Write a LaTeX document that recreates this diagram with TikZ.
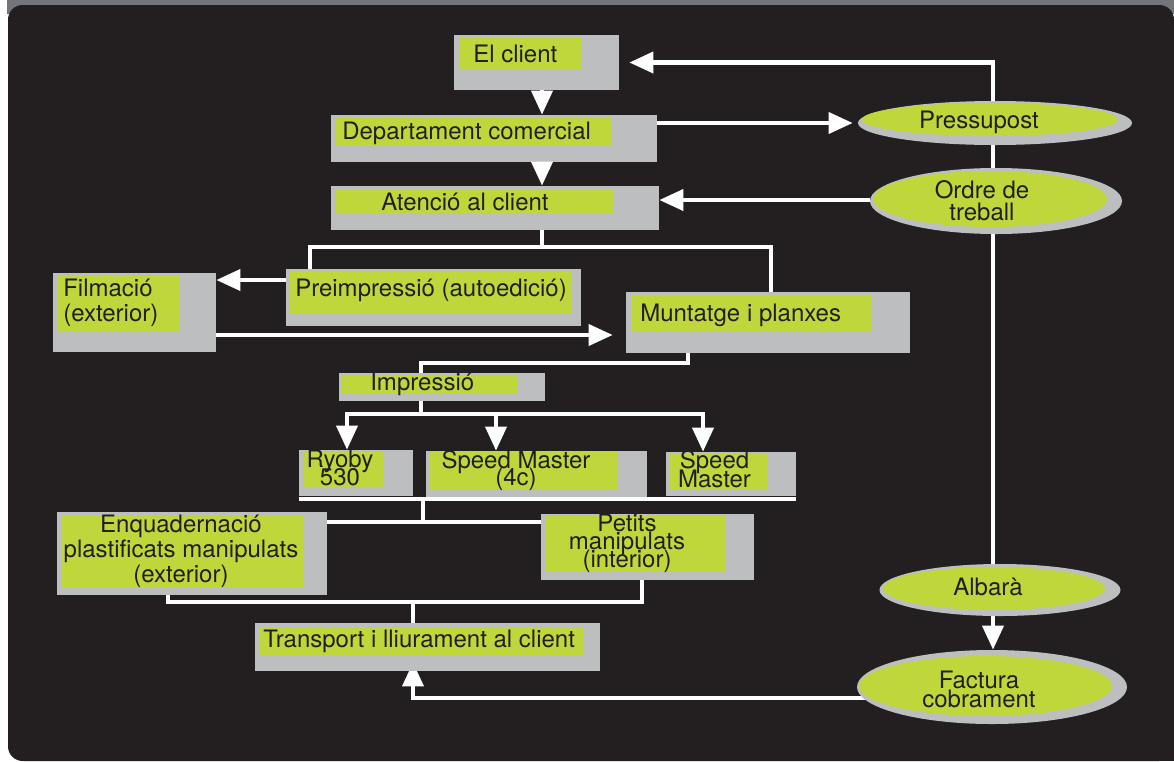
\documentclass[tikz,border=0pt]{standalone}
\usepackage{fontspec}
\setmainfont{TeX Gyre Heros}
\usetikzlibrary{arrows.meta,shapes.geometric,fit,calc}
\definecolor{bgdark}{HTML}{231F20}
\definecolor{boxgray}{HTML}{BCBEC0}
\definecolor{boxgreen}{HTML}{BFD73B}
\definecolor{bandgray}{HTML}{747578}
\definecolor{txtc}{HTML}{231F20}
\pgfdeclarelayer{back}
\pgfdeclarelayer{mid}
\pgfsetlayers{back,mid,main}
\newcommand{\tightfont}[1]{\fontsize{18}{#1}\selectfont\lineskiplimit=-100pt\lineskip=0pt}
\tikzset{
  gbox/.style={fill=boxgray, inner sep=0pt, draw=none},
  grn/.style={fill=boxgreen, inner sep=0pt, draw=none},
  lbl/.style={text=txtc, font=\fontsize{18}{18}\selectfont, inner sep=0pt},
  gell/.style={ellipse, fill=boxgray, inner sep=0pt, draw=none},
  yell/.style={ellipse, fill=boxgreen, inner sep=0pt, draw=none},
  wire/.style={draw=white, line width=3.4pt},
  arr/.style={wire, -{Triangle[length=18pt,width=15.5pt]}}
}
\begin{document}
\begin{tikzpicture}[x=0.75pt,y=-0.75pt]
\useasboundingbox (0,0) rectangle (1174,761);
\begin{pgfonlayer}{back}
\fill[white] (0,0) rectangle (1174,761);
\fill[bandgray] (7,0) rectangle (1174,14);
\fill[bgdark, rounded corners=11pt] (8,5) rectangle (1174,761);
\fill[bgdark] (1150,740) rectangle (1174,761);
\end{pgfonlayer}

% helper coordinates
\coordinate (x542) at (542,0);
\coordinate (x993) at (993,0);
\coordinate (x310) at (310,0);
\coordinate (x771) at (771,0);
\coordinate (x688) at (688,0);
\coordinate (x421) at (421,0);
\coordinate (x347) at (347,0);
\coordinate (x496) at (496,0);
\coordinate (x703) at (703,0);
\coordinate (x423) at (423,0);
\coordinate (x168) at (168,0);
\coordinate (x642) at (642,0);
\coordinate (x413) at (413,0);
\coordinate (x870) at (870,0);
\coordinate (y123) at (0,123);
\coordinate (y200) at (0,200);
\coordinate (y247) at (0,247);
\coordinate (y280) at (0,280);
\coordinate (y335) at (0,335);
\coordinate (y363) at (0,363);
\coordinate (y414) at (0,414);
\coordinate (y499) at (0,499);
\coordinate (y522) at (0,522);
\coordinate (y602) at (0,602);
\coordinate (y698) at (0,698);

% boxes
\node[gbox, fit={(454,35) (619,90)}] (client) {};
\node[grn, fit={(459,38) (581,70)}] (clientg) {};
\node[lbl, anchor=base west] (clientt) at (473,62) {El client};

\node[gbox, fit={(331,115) (657,162)}] (dept) {};
\node[grn, fit={(336,118) (611,146)}] (deptg) {};
\node[lbl, anchor=base west] (deptt) at (342,139) {Departament comercial};

\node[gbox, fit={(331,186) (659,230)}] (aten) {};
\node[grn, fit={(336,189) (613,213)}] (ateng) {};
\node[lbl, anchor=base west] (atent) at (381,210) {Atenció al client};

\node[gbox, fit={(286,269) (581,326)}] (preimp) {};
\node[grn, fit={(289,272) (571,313)}] (preimpg) {};
\node[lbl, anchor=base west] (preimpt) at (295,296) {Preimpressió (autoedició)};

\node[gbox, fit={(53,273) (216,352)}] (film) {};
\node[grn, fit={(57,275) (179,331)}] (filmg) {};
\node[lbl, anchor=base west, align=left, font=\tightfont{18.75}] (filmt) at (63,321) {Filmació\\(exterior)};

\node[gbox, fit={(626,292) (910,353)}] (munt) {};
\node[grn, fit={(632,296) (871,332)}] (muntg) {};
\node[lbl, anchor=base west] (muntt) at (640,321) {Muntatge i planxes};

\node[gbox, fit={(339,373) (545,401)}] (impr) {};
\node[grn, fit={(342,376) (517,393)}] (imprg) {};
\node[lbl, anchor=base west] (imprt) at (370,390) {Impressió};

\node[gbox, fit={(299,450) (413,496)}] (ryoby) {};
\node[grn, fit={(303,452) (384,487)}] (ryobyg) {};
\node[lbl, anchor=base, align=center, font=\tightfont{13.5}] (ryobyt) at (340,485) {Ryoby\\530};

\node[gbox, fit={(426,451) (647,497)}] (smc) {};
\node[grn, fit={(429,452) (618,489)}] (smcg) {};
\node[lbl, anchor=base, align=center, font=\tightfont{12.75}] (smct) at (516,485) {Speed Master\\(4c)};

\node[gbox, fit={(666,452) (796,496)}] (sm) {};
\node[grn, fit={(670,454) (768,489)}] (smg) {};
\node[lbl, anchor=base, align=center, font=\tightfont{14.25}] (smt) at (714.5,487) {Speed\\Master};

\node[gbox, fit={(57,512) (327,595)}] (enq) {};
\node[grn, fit={(62,515) (304,587)}] (enqg) {};
\node[lbl, anchor=base, align=center, font=\tightfont{18.75}] (enqt) at (181,582) {Enquadernació\\plastificats manipulats\\(exterior)};

\node[gbox, fit={(541,514) (754,580)}] (petits) {};
\node[grn, fit={(546,516) (726,572)}] (petitsg) {};
\node[lbl, anchor=base, align=center, font=\tightfont{13.5}] (petitst) at (627,567) {Petits\\manipulats\\(interior)};

\node[gbox, fit={(255,623) (600,671)}] (transp) {};
\node[grn, fit={(259,627) (583,656)}] (transpg) {};
\node[lbl, anchor=base west] (transpt) at (263,647) {Transport i lliurament al client};

% ellipses
\node[gell, minimum width=205.5pt, minimum height=33pt] (press) at (995,123) {};
\node[yell, minimum width=192pt, minimum height=24.75pt] (pressg) at (990,119.5) {};
\node[lbl, anchor=base] (presst) at (979,128) {Pressupost};

\node[gell, minimum width=189pt, minimum height=49.5pt] (ordre) at (996,201) {};
\node[yell, minimum width=175.5pt, minimum height=42pt] (ordreg) at (990,199) {};
\node[lbl, anchor=base, align=center, font=\tightfont{16.5}] (ordret) at (982,220) {Ordre de\\treball};

\node[gell, minimum width=180.75pt, minimum height=39pt] (albara) at (1000,590) {};
\node[yell, minimum width=166.5pt, minimum height=32.25pt] (albarag) at (994,588.5) {};
\node[lbl, anchor=base] (albarat) at (988,595) {Albarà};

\node[gell, minimum width=202.5pt, minimum height=55.5pt] (fact) at (992,687) {};
\node[yell, minimum width=189.75pt, minimum height=45pt] (factg) at (985.5,686) {};
\node[lbl, anchor=base, align=center, font=\tightfont{14.25}] (factt) at (979,707) {Factura\\cobrament};

% connectors behind ellipses
\begin{pgfonlayer}{mid}
\draw[arr, shorten >=7.5pt] (albara.north -| x993) -- (client.east -| x993) -- (client.east);
\draw[arr, shorten >=-6.75pt] (x870 |- y698) -| (transp.south -| x413);
\end{pgfonlayer}

% connectors
\draw[arr] (client.south -| x542) -- (dept.north -| x542);
\draw[arr] (dept.south -| x542) -- (aten.north -| x542);
\draw[arr, shorten >=3.75pt] (dept.east |- y123) -- (press.west |- y123);
\draw[arr] (ordre.west |- y200) -- (aten.east |- y200);
\draw[arr] (albara.south -| x993) -- (fact.north -| x993);

\draw[wire] (aten.south -| x542) -- (x542 |- y247);
\draw[wire] (preimp.north -| x310) -- (x310 |- y247) -- (x771 |- y247) -- (munt.north -| x771);
\draw[arr] (preimp.west |- y280) -- (film.east |- y280);
\draw[arr, shorten >=9.75pt] (film.east |- y335) -- (munt.west |- y335);

\draw[wire] (munt.south -| x688) -- (x688 |- y363) -- (x421 |- y363) -- (impr.north -| x421);
\draw[arr] (impr.south -| x421) |- (x347 |- y414) -- (ryoby.north -| x347);
\draw[arr] (x421 |- y414) -- (x703 |- y414) -- (sm.north -| x703);
\draw[arr] (x496 |- y414) -- (smc.north -| x496);

\draw[wire] (ryoby.south west |- y499) -- (sm.south east |- y499);
\draw[wire] (x423 |- y499) -- (x423 |- y522);
\draw[wire] (enq.east |- y522) -- (petits.west |- y522);
\draw[wire] (enq.south -| x168) -- (x168 |- y602) -- (x642 |- y602) -- (petits.south -| x642);
\draw[wire] (x413 |- y602) -- (transp.north -| x413);
\end{tikzpicture}
\end{document}
